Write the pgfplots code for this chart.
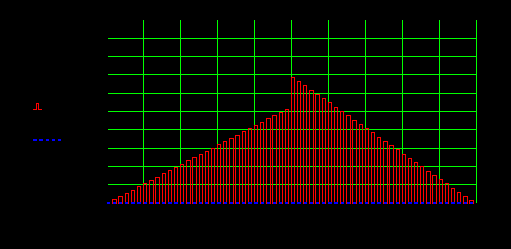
\documentclass[border=0pt]{standalone}
\usepackage{pgfplots}
\pgfplotsset{compat=1.18}
\definecolor{gg}{RGB}{0,255,0}
\definecolor{rr}{RGB}{255,0,0}
\definecolor{bb}{RGB}{0,0,255}
\begin{document}
\begin{tikzpicture}
\fill[black] (0,0) rectangle (511bp,249bp);
\begin{axis}[
  at={(108bp,45.9bp)}, anchor=south west,
  scale only axis, width=368.5bp, height=183bp,
  xmin=-0.05, xmax=59.8, ymin=0, ymax=10,
  clip=false,
  axis line style={draw=none},
  xtick={5.69,11.70,17.71,23.72,29.73,35.74,41.75,47.76,53.77,59.78},
  ytick={1,2,3,4,5,6,7,8,9},
  xticklabels={}, yticklabels={},
  major tick length=0pt,
  grid=major,
  major grid style={draw=gg, line width=1bp},
  legend style={at={(-0.2062,0.547)}, anchor=north west, draw=none, fill=black, text=black, font=\tiny, row sep=25bp, inner sep=0pt},
  legend cell align=left,
]
\addplot[ybar, bar width=3.3bp, draw=rr, fill=none, line width=1bp,
  legend image code/.code={\draw[rr, line width=1bp] (0bp,0bp) -- (3.5bp,0bp) -- (3.5bp,6bp) -- (5.5bp,6bp) -- (5.5bp,0bp) -- (9bp,0bp);}]
coordinates {
(1,0.180) (2,0.344) (3,0.508) (4,0.672) (5,0.891) (6,1.055) (7,1.219) (8,1.383) (9,1.601) (10,1.765)
(11,1.929) (12,2.093) (13,2.311) (14,2.475) (15,2.639) (16,2.803) (17,2.967) (18,3.186) (19,3.350) (20,3.514)
(21,3.678) (22,3.896) (23,4.060) (24,4.224) (25,4.388) (26,4.607) (27,4.770) (28,4.934) (29,5.098) (30,6.847)
(31,6.628) (32,6.410) (33,6.137) (34,5.918) (35,5.699) (36,5.481) (37,5.208) (38,4.989) (39,4.770) (40,4.497)
(41,4.279) (42,4.060) (43,3.842) (44,3.568) (45,3.350) (46,3.131) (47,2.913) (48,2.639) (49,2.421) (50,2.202)
(51,1.984) (52,1.710) (53,1.492) (54,1.273) (55,1.055) (56,0.781) (57,0.563) (58,0.344) (59,0.126)
};
\addlegendentry{}
\addplot[bb, line width=2bp, dash pattern=on 3.3bp off 2.855bp,
  legend image code/.code={\draw[bb, line width=2bp, dash pattern=on 3.3bp off 2.855bp] (0bp,0bp) -- (28bp,0bp);}]
coordinates {(-0.268,0) (59.268,0)};
\addlegendentry{}
\end{axis}
\end{tikzpicture}
\end{document}
